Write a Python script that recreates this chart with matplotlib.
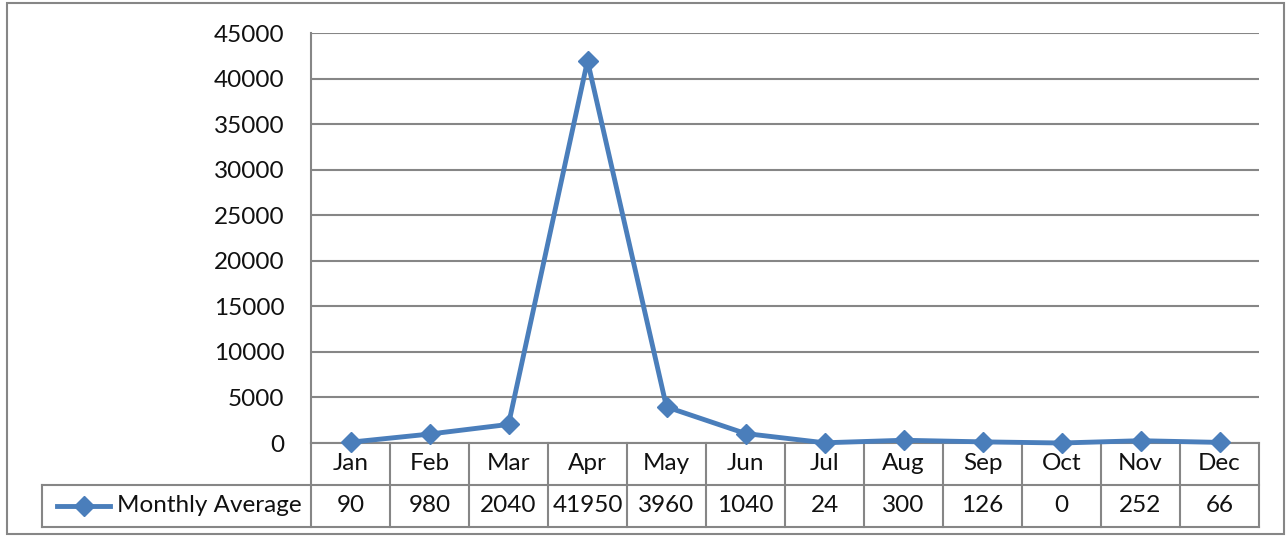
import matplotlib
matplotlib.use("Agg")
import matplotlib.pyplot as plt
from matplotlib.lines import Line2D
from matplotlib.patches import Rectangle
from matplotlib.transforms import blended_transform_factory

months = ["Jan", "Feb", "Mar", "Apr", "May", "Jun", "Jul", "Aug", "Sep", "Oct", "Nov", "Dec"]
monthly_average = [90, 980, 2040, 41950, 3960, 1040, 24, 300, 126, 0, 252, 66]
series_name = "Monthly Average"
y_ticks = list(range(0, 45001, 5000))

LINE_C = "#4A7EBB"
GRID_C = "#868686"
FONT = ["Lato", "DejaVu Sans"]
FS = 17.5

W, H = 1287, 537
fig = plt.figure(figsize=(W / 100, H / 100), dpi=100)
plt.rcParams["font.family"] = FONT

# plot area in pixels
L, R, T, B = 311, 1259, 33, 443
ax = fig.add_axes([L / W, 1 - B / H, (R - L) / W, (B - T) / H])

x = list(range(len(months)))
ax.plot(x, monthly_average, color=LINE_C, lw=3.5, marker="D", ms=10,
        markerfacecolor=LINE_C, markeredgecolor=LINE_C, clip_on=False, zorder=5)

ax.set_xlim(-0.5, len(months) - 0.5)
ax.set_ylim(0, 45000)
ax.set_yticks(y_ticks)
ax.set_yticklabels([str(v) for v in y_ticks], fontsize=FS, family=FONT, color="#111111")
ax.tick_params(axis="y", length=0, pad=19)
ax.set_xticks([])
for s in ["top", "right", "bottom"]:
    ax.spines[s].set_visible(False)
ax.spines["left"].set_color(GRID_C)
ax.spines["left"].set_linewidth(1.5)
ax.yaxis.grid(True, color=GRID_C, lw=1.5)
ax.set_axisbelow(True)

# data table under the axis
row_h = 42 / (B - T)
tr = blended_transform_factory(ax.transData, ax.transAxes)
n = len(months)
legend_left = (42 - L) / (R - L)

def hline(x0, x1, y, transform):
    ax.add_line(Line2D([x0, x1], [y, y], color=GRID_C, lw=1.5, transform=transform, clip_on=False))

def vline(xv, y0, y1, transform):
    ax.add_line(Line2D([xv, xv], [y0, y1], color=GRID_C, lw=1.5, transform=transform, clip_on=False))

hline(-0.5, n - 0.5, 0, tr)
hline(legend_left, 1, -row_h, ax.transAxes)
hline(legend_left, 1, -2 * row_h, ax.transAxes)
vline(legend_left, -row_h, -2 * row_h, ax.transAxes)
for i in range(n + 1):
    vline(i - 0.5, 0, -2 * row_h, tr)

for i, (m, v) in enumerate(zip(months, monthly_average)):
    ax.text(i, -0.5 * row_h, m, transform=tr, ha="center", va="center",
            fontsize=FS, family=FONT, color="#111111")
    ax.text(i, -1.5 * row_h, str(v), transform=tr, ha="center", va="center",
            fontsize=FS, family=FONT, color="#111111")

# legend key in the table
kx0 = (57 - L) / (R - L)
kx1 = (110 - L) / (R - L)
ax.add_line(Line2D([kx0, kx1], [-1.5 * row_h] * 2, color=LINE_C, lw=3.5, transform=ax.transAxes, clip_on=False))
ax.add_line(Line2D([(kx0 + kx1) / 2], [-1.5 * row_h], color=LINE_C, marker="D", ms=10,
                   transform=ax.transAxes, clip_on=False))
ax.text((117 - L) / (R - L), -1.5 * row_h, series_name, transform=ax.transAxes,
        ha="left", va="center", fontsize=FS, family=FONT, color="#111111")

# chart border
fig.patches.append(Rectangle((7 / W, 3 / H), (1284 - 7) / W, (534 - 3) / H, transform=fig.transFigure,
                             fill=False, edgecolor=GRID_C, lw=1.5))

fig.savefig("out.png", dpi=100)
